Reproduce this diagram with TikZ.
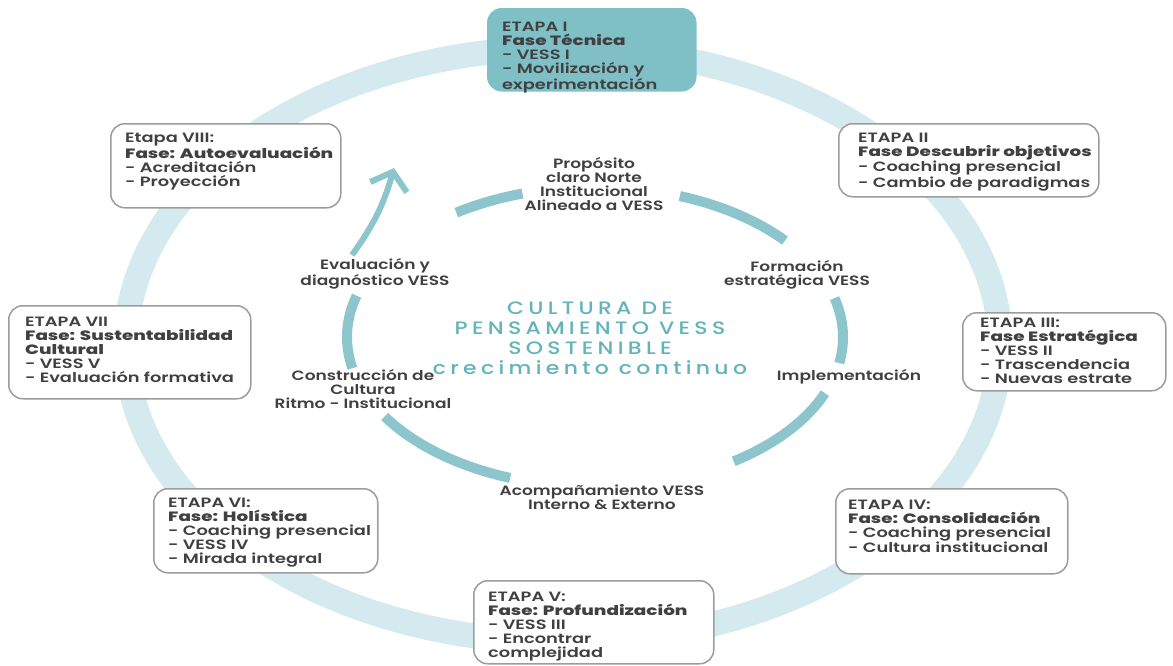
\documentclass[tikz,border=0pt]{standalone}
\usepackage{fontspec}
\setmainfont{Poppins}
\IfFontExistsTF{Poppins SemiBold}
    {\newfontfamily\stagefont[FakeStretch=1.32]{Poppins SemiBold}}
    {\newfontfamily\stagefont[FakeStretch=1.3]{Poppins Bold}}
\IfFontExistsTF{Poppins ExtraBold}
    {\newfontfamily\stagebold[FakeStretch=1.36]{Poppins ExtraBold}}
    {\newfontfamily\stagebold[FakeStretch=1.42, FakeBold=2.5]{Poppins Bold}}
\IfFontExistsTF{Poppins SemiBold}
    {\newfontfamily\labelfont[FakeStretch=1.26]{Poppins SemiBold}}
    {\newfontfamily\labelfont[FakeStretch=1.24]{Poppins Bold}}
\IfFontExistsTF{Poppins Medium}
    {\newfontfamily\corefont[FakeStretch=1.22, LetterSpace=24]{Poppins Medium}}
    {\newfontfamily\corefont[FakeStretch=1.25, LetterSpace=24, FakeBold=1.5]{Poppins}}
\newcommand{\fase}[1]{{\stagebold #1}}
\usetikzlibrary{arrows.meta}
\definecolor{ringlight}{HTML}{D5EAEE}
\definecolor{ringteal}{HTML}{8CC6CC}
\definecolor{boxteal}{HTML}{7FC0C6}
\definecolor{boxgray}{HTML}{9C9C9C}
\definecolor{txtgray}{HTML}{404040}
\definecolor{coreteal}{HTML}{62B3BB}
\tikzset{
    stagebox/.style={draw=boxgray, line width=1.5pt, rounded corners=14pt, fill=white, anchor=north west, inner sep=0pt},
    stagetext/.style={anchor=north west, align=left, inner sep=0pt, text=txtgray, font=\stagefont\fontsize{13.5}{14}\selectfont},
    cyclelabel/.style={align=center, inner sep=0pt, text=txtgray, font=\labelfont\fontsize{13.5}{14}\selectfont},
    coretext/.style={align=center, inner sep=0pt, text=coreteal, font=\corefont\fontsize{18}{20}\selectfont}
}

\begin{document}
\begin{tikzpicture}[x=1pt, y=-1pt]
    \useasboundingbox (0,0) rectangle (1173,665);
    % anillo exterior
    \draw[ringlight, line width=25pt] (563,345) ellipse [x radius=437, y radius=297];

    % ciclo interior
    \foreach \a/\b in {236/253, 290/320, -15/10, 22/56, 110/148, 168/196}
        \draw[ringteal, line width=10pt] (595,337) ++(\a:248 and 150) arc[start angle=\a, end angle=\b, x radius=248, y radius=150];
    \draw[ringteal, line width=6pt, -{Straight Barb[length=16pt, width=38pt]}] (352,255) to[bend right=10] (394,168);

    % etapas
    \node[stagebox, minimum width=208pt, minimum height=82pt, fill=boxteal, draw=boxteal] (e1) at (487,8) {};
    \node[stagebox, minimum width=260pt, minimum height=73pt] (e2) at (838,123) {};
    \node[stagebox, minimum width=203pt, minimum height=78pt] (e3) at (962,312) {};
    \node[stagebox, minimum width=232pt, minimum height=85pt] (e4) at (835,488) {};
    \node[stagebox, minimum width=240pt, minimum height=83pt] (e5) at (473,580) {};
    \node[stagebox, minimum width=224pt, minimum height=84pt] (e6) at (153,488) {};
    \node[stagebox, minimum width=242pt, minimum height=93pt] (e7) at (8,305) {};
    \node[stagebox, minimum width=230pt, minimum height=84pt] (e8) at (110,123) {};

    \node[stagetext] (t1) at (502,22) {ETAPA I\\\fase{Fase Técnica}\\- VESS I\\- Movilización y\\experimentación};
    \node[stagetext] (t2) at (858,133) {ETAPA II\\\fase{Fase Descubrir objetivos}\\- Coaching presencial\\- Cambio de paradigmas};
    \node[stagetext] (t3) at (980,318) {ETAPA III:\\\fase{Fase Estratégica}\\- VESS II\\- Trascendencia\\- Nuevas estrate};
    \node[stagetext] (t4) at (848,500) {ETAPA IV:\\\fase{Fase: Consolidación}\\- Coaching presencial\\- Cultura institucional};
    \node[stagetext] (t5) at (488,592) {ETAPA V:\\\fase{Fase: Profundización}\\- VESS III\\- Encontrar\\complejidad};
    \node[stagetext] (t6) at (168,498) {ETAPA VI:\\\fase{Fase: Holística}\\- Coaching presencial\\- VESS IV\\- Mirada integral};
    \node[stagetext] (t7) at (25,317) {ETAPA VII\\\fase{Fase: Sustentabilidad}\\\fase{Cultural}\\- VESS V\\- Evaluación formativa};
    \node[stagetext] (t8) at (125,133) {Etapa VIII:\\\fase{Fase: Autoevaluación}\\- Acreditación\\- Proyección};

    % textos del ciclo
    \node[coretext] (nucleo) at (590,338) {CULTURA DE\\PENSAMIENTO VESS\\SOSTENIBLE\\crecimiento continuo};
    \node[cyclelabel] (proposito) at (594,184) {Propósito\\claro Norte\\Institucional\\Alineado a VESS};
    \node[cyclelabel] (evaluacion) at (375,274) {Evaluación y\\diagnóstico VESS};
    \node[cyclelabel] (formacion) at (797,275) {Formación\\estratégica VESS};
    \node[cyclelabel] (implementacion) at (849,377) {Implementación};
    \node[cyclelabel] (construccion) at (363,389) {Construcción de\\Cultura\\Ritmo - Institucional};
    \node[cyclelabel] (acompanamiento) at (602,497) {Acompañamiento VESS\\Interno \& Externo};
\end{tikzpicture}
\end{document}
